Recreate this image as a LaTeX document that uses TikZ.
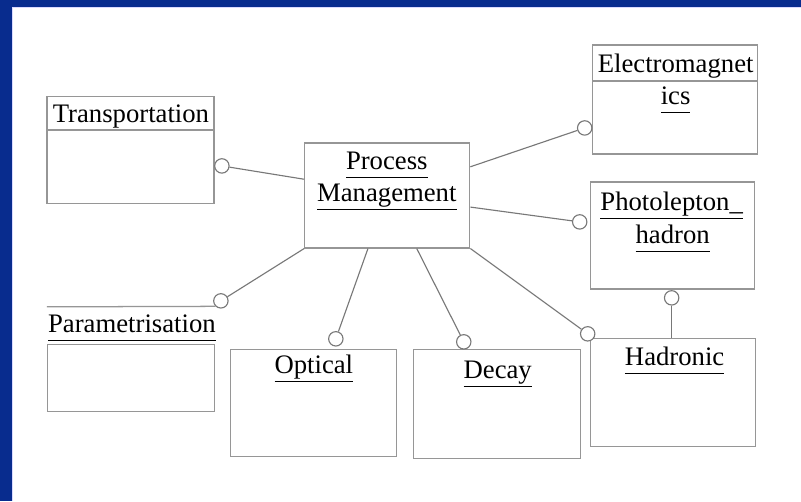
\documentclass[tikz,border=0pt]{standalone}
\usepackage{fontspec}
\setmainfont{Liberation Serif}
\usetikzlibrary{positioning, shapes.geometric}

\definecolor{slideblue}{RGB}{8,44,142}
\definecolor{boxgray}{RGB}{150,150,150}
\definecolor{linegray}{RGB}{120,120,120}

\newcommand{\ulabel}[1]{\underline{#1\vphantom{g}}}

\tikzset{
  umlbox/.style={draw=boxgray, line width=0.9pt, rectangle, inner sep=0pt},
  sepline/.style={draw=boxgray, line width=0.9pt},
  lolly/.style={draw=linegray, line width=0.8pt, circle, fill=white, minimum size=0.36cm, inner sep=0pt},
  link/.style={draw=linegray, line width=0.8pt},
  lbl/.style={inner sep=0pt, anchor=base, font=\fontsize{19}{23.5}\selectfont},
}

\begin{document}
\begin{tikzpicture}[x=0.025cm, y=-0.025cm]

% frame
\fill[slideblue] (0,0) rectangle (801,501);
\fill[white] (12,7) rectangle (801,501);
\draw[blue!15, line width=0.6pt] (12.5,501) -- (12.5,7.5) -- (801,7.5);
\useasboundingbox (0,0) rectangle (801,501);

% boxes
\node[umlbox, minimum width=4.175cm, minimum height=2.675cm] (trans) at (130.5,150) {};
\node[umlbox, minimum width=4.125cm, minimum height=2.625cm] (pm) at (387.5,195.5) {};
\node[umlbox, minimum width=4.125cm, minimum height=2.725cm] (em) at (675.5,99.5) {};
\node[umlbox, minimum width=4.1cm, minimum height=2.675cm] (photo) at (673,235.5) {};
\node[umlbox, minimum width=4.175cm, minimum height=1.675cm] (param) at (131,378.5) {};
\node[umlbox, minimum width=4.15cm, minimum height=2.675cm] (optical) at (314,403.5) {};
\node[umlbox, minimum width=4.175cm, minimum height=2.725cm] (decay) at (497.5,404.5) {};
\node[umlbox, minimum width=4.125cm, minimum height=2.7cm] (hadr) at (673.5,393) {};

% separators
\coordinate (transsep) at (0,130);
\coordinate (emsep) at (0,81);
\coordinate (paramtop) at (47,307);
\draw[sepline] (trans.west |- transsep) -- (trans.east |- transsep);
\draw[sepline] (em.west |- emsep) -- (em.east |- emsep);

% labels
\node[lbl] (transtxt) at (131,123) {Transportation};
\node[lbl] (pmtxt1) at (387,170) {\ulabel{Process}};
\node[lbl] (pmtxt2) at (387,202) {\ulabel{Management}};
\node[lbl] (emtxt1) at (676,73) {Electromagnet};
\node[lbl] (emtxt2) at (676,105) {\ulabel{ics}};
\node[lbl] (phtxt1) at (672,211) {\ulabel{Photolepton\_}};
\node[lbl] (phtxt2) at (673,244) {\ulabel{hadron}};
\node[lbl] (paramtxt) at (132,333) {\ulabel{Parametrisation}};
\node[lbl] (opttxt) at (314,374) {\ulabel{Optical}};
\node[lbl] (dectxt) at (498,379) {\ulabel{Decay}};
\node[lbl] (hadtxt) at (675,366) {\ulabel{Hadronic}};

% interface circles
\node[lolly] (transc) at (222,166) {};
\node[lolly] (emc) at (585,128) {};
\node[lolly] (photoc) at (580,222) {};
\node[lolly] (paramc) at (221,301) {};
\node[lolly] (optc) at (336,339) {};
\node[lolly] (decc) at (464,342) {};
\node[lolly] (hadc) at (588,334) {};
\node[lolly] (phhadc) at (672,298) {};

% connectors
\draw[link] (transc) -- (pm.169);
\draw[link] (pm.19) -- (emc);
\draw[link] (pm.352) -- (photoc);
\draw[link] (pm.south west) -- (paramc);
\draw[link] (pm.250) -- (optc);
\draw[link] (pm.299) -- (decc);
\draw[link] (pm.south east) -- (hadc);
\draw[link] (phhadc) -- (phhadc |- hadr.north);
\draw[sepline] (paramtop) -- (paramc.south west);

\end{tikzpicture}
\end{document}
